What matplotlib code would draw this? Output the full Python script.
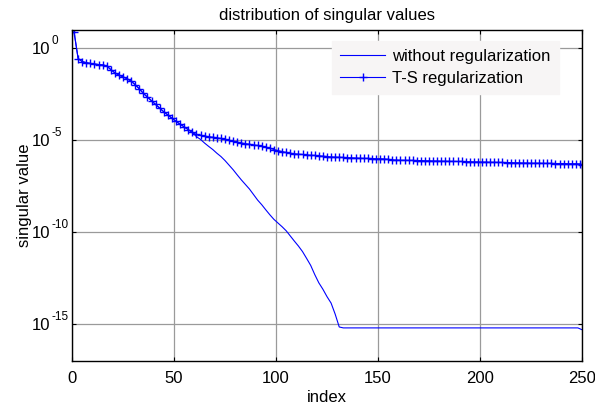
import numpy as np
from matplotlib import pyplot as plt
from matplotlib.transforms import ScaledTranslation

plt.rcParams['font.family'] = ['Liberation Sans', 'DejaVu Sans']
plt.rcParams['font.size'] = 12

# singular values, stored as log10
# shared head of both curves, index 1,3,...,59
idx_head = np.arange(1, 60, 2)
log_head = [0.90, -0.55, -0.72, -0.78, -0.82, -0.85, -0.88, -0.90, -0.95, -1.15,
            -1.33, -1.45, -1.55, -1.65, -1.78, -1.98, -2.20, -2.45, -2.65, -2.85,
            -3.05, -3.25, -3.45, -3.62, -3.80, -3.97, -4.12, -4.27, -4.42, -4.57]

# without regularization, tail
idx_a_tail = list(range(61, 134, 2)) + [150, 200, 248, 250]
log_a_tail = [-4.80, -4.95, -5.15, -5.33, -5.50, -5.70, -5.88, -6.10, -6.35, -6.60,
              -6.88, -7.15, -7.40, -7.65, -7.95, -8.25, -8.50, -8.78, -9.05, -9.30,
              -9.50, -9.70, -9.92, -10.20, -10.48, -10.75, -11.05, -11.42, -11.80, -12.30,
              -12.75, -13.10, -13.50, -13.85, -14.45, -15.15, -15.20,
              -15.20, -15.20, -15.20, -15.30]

# T-S regularization, tail
idx_b_tail = list(range(61, 250, 2)) + [250]
log_b_tail = [-4.68, -4.73, -4.77, -4.80, -4.83, -4.86, -4.90, -4.95, -5.00, -5.05,
              -5.10, -5.14, -5.18, -5.21, -5.25, -5.28, -5.32, -5.37, -5.43, -5.50,
              -5.56, -5.61, -5.66, -5.70, -5.73, -5.75, -5.77, -5.79, -5.81, -5.82,
              -5.84, -5.86, -5.88, -5.90, -5.91, -5.92, -5.93, -5.94, -5.95, -5.96,
              -5.97, -5.98, -5.98, -5.99, -6.00, -6.00, -6.01, -6.03, -6.06, -6.07,
              -6.08, -6.08, -6.09, -6.09, -6.10, -6.10, -6.11, -6.11, -6.12, -6.12,
              -6.13, -6.13, -6.14, -6.14, -6.15, -6.15, -6.16, -6.16, -6.17, -6.17,
              -6.18, -6.18, -6.19, -6.19, -6.20, -6.20, -6.21, -6.21, -6.22, -6.22,
              -6.23, -6.23, -6.24, -6.24, -6.24, -6.25, -6.25, -6.25, -6.26, -6.26,
              -6.26, -6.27, -6.27, -6.27, -6.28, -6.32]

x_a = np.concatenate([idx_head, idx_a_tail])
y_a = 10.0 ** np.concatenate([log_head, log_a_tail])
x_b = np.concatenate([idx_head, idx_b_tail])
y_b = 10.0 ** np.concatenate([log_head, log_b_tail])

x_ticks = [0, 50, 100, 150, 200, 250]
y_exps = [-15, -10, -5, 0]

fig = plt.figure(figsize=(5.95, 4.08), dpi=100)
ax = fig.add_axes([72/595, 1-361/408, 510/595, 331/408])

ax.semilogy(x_a, y_a, color='b', lw=0.8, label='without regularization')
ax.semilogy(x_b, y_b, color='b', lw=0.8, marker='+', ms=6, mew=1.0,
            label='T-S regularization')

ax.set_xlim(0, 250)
ax.set_ylim(1e-17, 1e1)
ax.set_xticks(x_ticks)
ax.set_yticks([10.0 ** e for e in y_exps])
ax.set_yticklabels([])
ax.minorticks_off()
ax.tick_params(direction='in', length=3, width=0.8, top=True, right=True)
ax.tick_params(axis='x', pad=7)
ax.grid(True, color='#9a9a9a', lw=0.9)
for s in ax.spines.values():
	s.set_linewidth(1.0)

# MATLAB style log labels: "10" right aligned, exponent hanging to the right
px = 72.0 / fig.dpi
base_tr = ax.get_yaxis_transform() + ScaledTranslation(-22*px/72, -6*px/72, fig.dpi_scale_trans)
sup_tr = ax.get_yaxis_transform() + ScaledTranslation(-21*px/72, 4*px/72, fig.dpi_scale_trans)
for e in y_exps:
	ax.text(0, 10.0 ** e, '10', transform=base_tr, ha='right', va='baseline', fontsize=12)
	ax.text(0, 10.0 ** e, str(e), transform=sup_tr, ha='left', va='baseline', fontsize=8.5)

ax.set_xlabel('index', labelpad=3)
ax.set_ylabel('singular value')
ax.yaxis.set_label_coords(-40/510, 0.5)
ax.set_title('distribution of singular values', fontsize=12, pad=7)

leg = ax.legend(loc='upper left', bbox_to_anchor=(332/595, 1-41/408),
                bbox_transform=fig.transFigure, numpoints=1, handlelength=2.7,
                handletextpad=0.4, labelspacing=0.38, borderpad=0.5,
                borderaxespad=0, fancybox=False, framealpha=1)
leg.get_frame().set_facecolor('#f7f5f5')
leg.get_frame().set_edgecolor('#f7f5f5')

fig.savefig('out.png', dpi=100)
